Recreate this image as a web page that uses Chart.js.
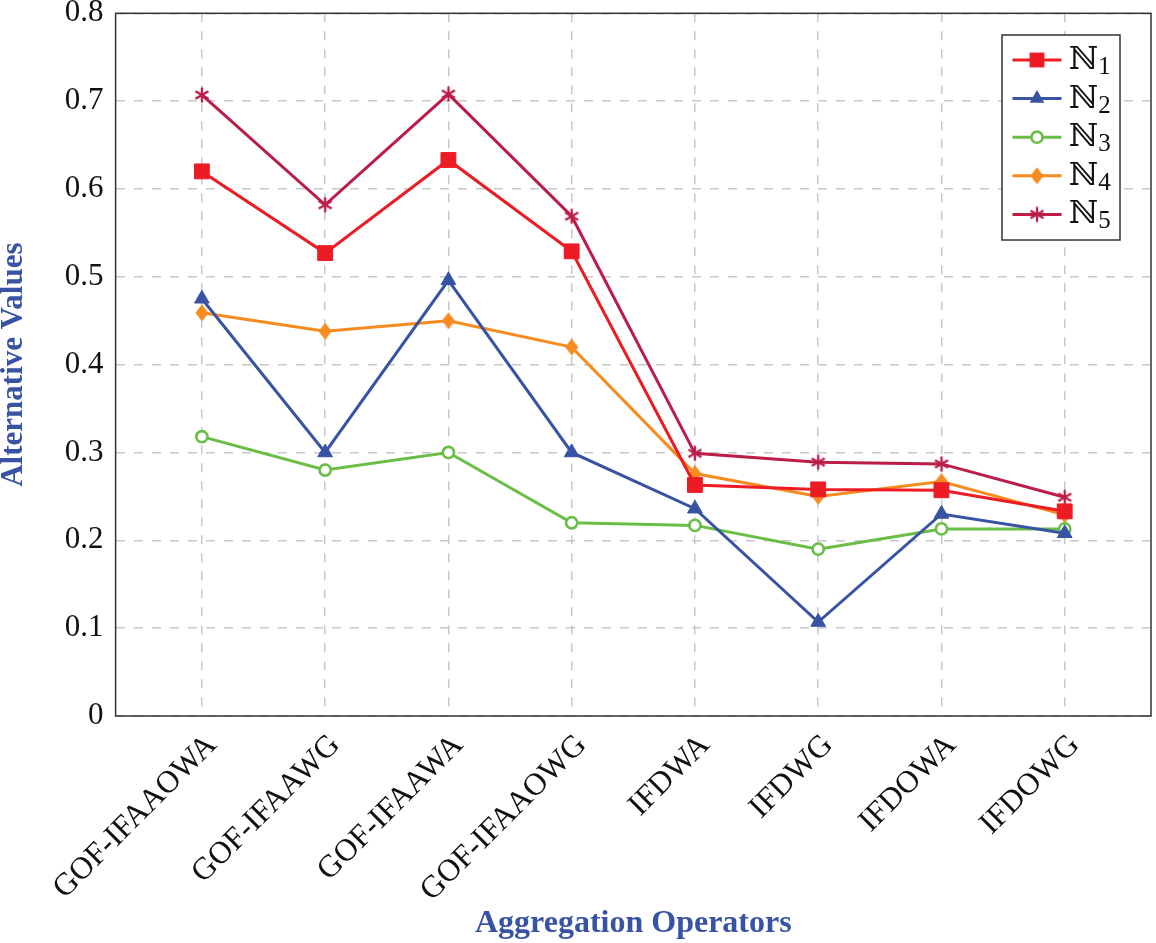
<!DOCTYPE html>
<html>
<head>
<meta charset="utf-8">
<script src="https://cdn.jsdelivr.net/npm/chart.js@4/dist/chart.umd.min.js"></script>
<style>
html,body{margin:0;padding:0;background:#fff;}
#wrap{width:1156px;height:943px;position:relative;}
</style>
</head>
<body>
<div id="wrap"><canvas id="c" width="1156" height="943"></canvas></div>
<script>
const categories = ["GOF-IFAAOWA","GOF-IFAAWG","GOF-IFAAWA","GOF-IFAAOWG","IFDWA","IFDWG","IFDOWA","IFDOWG"];
const seriesNames = ["1","2","3","4","5"];
const n1 = [0.620, 0.527, 0.633, 0.529, 0.263, 0.258, 0.257, 0.233];
const n2 = [0.475, 0.300, 0.496, 0.300, 0.236, 0.107, 0.230, 0.208];
const n3 = [0.318, 0.280, 0.300, 0.220, 0.217, 0.190, 0.213, 0.213];
const n4 = [0.459, 0.438, 0.450, 0.420, 0.276, 0.250, 0.267, 0.229];
const n5 = [0.707, 0.582, 0.708, 0.569, 0.299, 0.289, 0.287, 0.249];
const yTicks = [0,0.1,0.2,0.3,0.4,0.5,0.6,0.7,0.8];

const colors = ["#ed1c24","#3953a4","#6abd45","#f68b1f","#bb1d48"];

function makeDiamond(color){
  const c = document.createElement('canvas'); c.width = 14; c.height = 18;
  const x = c.getContext('2d'); x.fillStyle = color; x.beginPath();
  x.moveTo(7,0.5); x.lineTo(13.5,9); x.lineTo(7,17.5); x.lineTo(0.5,9); x.closePath(); x.fill();
  return c;
}
function makeAsterisk(color){
  const c = document.createElement('canvas'); c.width = 18; c.height = 18;
  const x = c.getContext('2d'); x.strokeStyle = color; x.lineWidth = 2.3; x.lineCap = 'butt';
  x.beginPath();
  [90,30,150].forEach(d=>{const a=d*Math.PI/180, r=7.5; x.moveTo(9+Math.cos(a)*r,9-Math.sin(a)*r); x.lineTo(9-Math.cos(a)*r,9+Math.sin(a)*r);});
  x.stroke();
  return c;
}
const styles = ["rect","triangle","circle",makeDiamond(colors[3]),makeAsterisk(colors[4])];
const radii = [10.5, 8.5, 5.6, 8, 8];
const allSeries = [n1,n2,n3,n4,n5];

const datasets = allSeries.map((vals,i)=>({
  label: seriesNames[i],
  data: vals.map((v,j)=>({x:j,y:v})),
  borderColor: colors[i],
  backgroundColor: i===2 ? "#ffffff" : colors[i],
  pointBackgroundColor: i===2 ? "#ffffff" : colors[i],
  pointBorderColor: colors[i],
  pointBorderWidth: i===2 ? 2.6 : 1,
  pointStyle: styles[i],
  pointRadius: radii[i],
  pointHoverRadius: radii[i],
  borderWidth: 3,
  tension: 0,
  fill: false
}));

function drawMarker(ctx, style, x, y, r, fill, stroke, bw){
  ctx.save();
  ctx.fillStyle = fill; ctx.strokeStyle = stroke; ctx.lineWidth = bw;
  ctx.beginPath();
  if (typeof style !== 'string'){ ctx.drawImage(style, x-style.width/2, y-style.height/2); }
  else if (style==="rect"){ const s=Math.SQRT1_2*r; ctx.rect(x-s,y-s,2*s,2*s); ctx.fill(); }
  else if (style==="triangle"){
    for(let k=0;k<3;k++){const a=k*2*Math.PI/3; const px=x+Math.sin(a)*r, py=y-Math.cos(a)*r; k?ctx.lineTo(px,py):ctx.moveTo(px,py);} ctx.closePath(); ctx.fill();
  }
  else if (style==="circle"){ ctx.arc(x,y,r,0,2*Math.PI); ctx.fill(); ctx.stroke(); }
  ctx.restore();
}

const framePlugin = {
  id:'frameLegend',
  afterDraw(chart){
    const ctx = chart.ctx, a = chart.chartArea;
    ctx.save();
    ctx.strokeStyle = "#333"; ctx.lineWidth = 1.5;
    ctx.strokeRect(a.left, a.top, a.right-a.left, a.bottom-a.top);
    const bx = 1002, by = 35, bw = 118, bh = 205;
    ctx.fillStyle = "#fff"; ctx.fillRect(bx,by,bw,bh);
    ctx.strokeStyle = "#333"; ctx.lineWidth = 1.5; ctx.strokeRect(bx,by,bw,bh);
    chart.data.datasets.forEach((ds,i)=>{
      const cy = 60 + i*38.6;
      ctx.strokeStyle = ds.borderColor; ctx.lineWidth = 3;
      ctx.beginPath(); ctx.moveTo(1012.5, cy); ctx.lineTo(1061.5, cy); ctx.stroke();
      drawMarker(ctx, ds.pointStyle, 1037, cy, ds.pointRadius, ds.pointBackgroundColor, ds.pointBorderColor, ds.pointBorderWidth);
      ctx.fillStyle = "#111"; ctx.textBaseline = "alphabetic"; ctx.textAlign = "left";
      ctx.font = "32px 'DejaVu Serif', 'Liberation Serif', serif";
      ctx.fillText("\u2115", 1069, cy+9);
      const w = ctx.measureText("\u2115").width;
      ctx.font = "25px 'Liberation Serif', serif";
      ctx.fillText(ds.label, 1069 + w, cy+14);
    });
    ctx.restore();
  }
};

new Chart(document.getElementById('c'), {
  type:'line',
  data:{datasets},
  plugins:[framePlugin],
  options:{
    responsive:false,
    animation:false,
    layout:{autoPadding:false, padding:{top:13.3,right:5,bottom:0,left:0}},
    plugins:{legend:{display:false},tooltip:{enabled:false}},
    scales:{
      x:{
        type:'linear', min:-0.7, max:7.7,
        afterBuildTicks(s){ s.ticks = categories.map((c,i)=>({value:i})); },
        afterFit(s){ s.height = 227; s.paddingLeft = 0; s.paddingRight = 0; },
        border:{display:false, dash:[9,9]},
        grid:{color:"#c8c8c8", lineWidth:1.5, drawTicks:false, tickLength:0},
        ticks:{
          autoSkip:false, minRotation:45, maxRotation:45, padding:11, labelOffset:10,
          color:"#111", font:{family:"'Liberation Serif', serif", size:31.5},
          callback:(v)=>categories[v]
        },
        title:{display:true, text:"Aggregation Operators", color:"#3953a4",
          font:{family:"'Liberation Serif', serif", size:32, weight:'bold', lineHeight:1.2},
          padding:{top:0,bottom:0}}
      },
      y:{
        min:0, max:0.8,
        afterBuildTicks(s){ s.ticks = yTicks.map(v=>({value:v})); },
        afterFit(s){ s.width = 115.6; s.paddingTop = 0; s.paddingBottom = 0; },
        border:{display:false, dash:[9,9]},
        grid:{color:"#c8c8c8", lineWidth:1.5, drawTicks:false, tickLength:0},
        ticks:{
          padding:12, color:"#111", font:{family:"'Liberation Serif', serif", size:31},
          callback:(v)=> v===0 ? "0" : v.toFixed(1)
        },
        title:{display:true, text:"Alternative Values", color:"#3953a4",
          font:{family:"'Liberation Serif', serif", size:31, weight:'bold', lineHeight:0.9},
          padding:{top:0,bottom:0}}
      }
    }
  },
});
</script>
</body>
</html>
